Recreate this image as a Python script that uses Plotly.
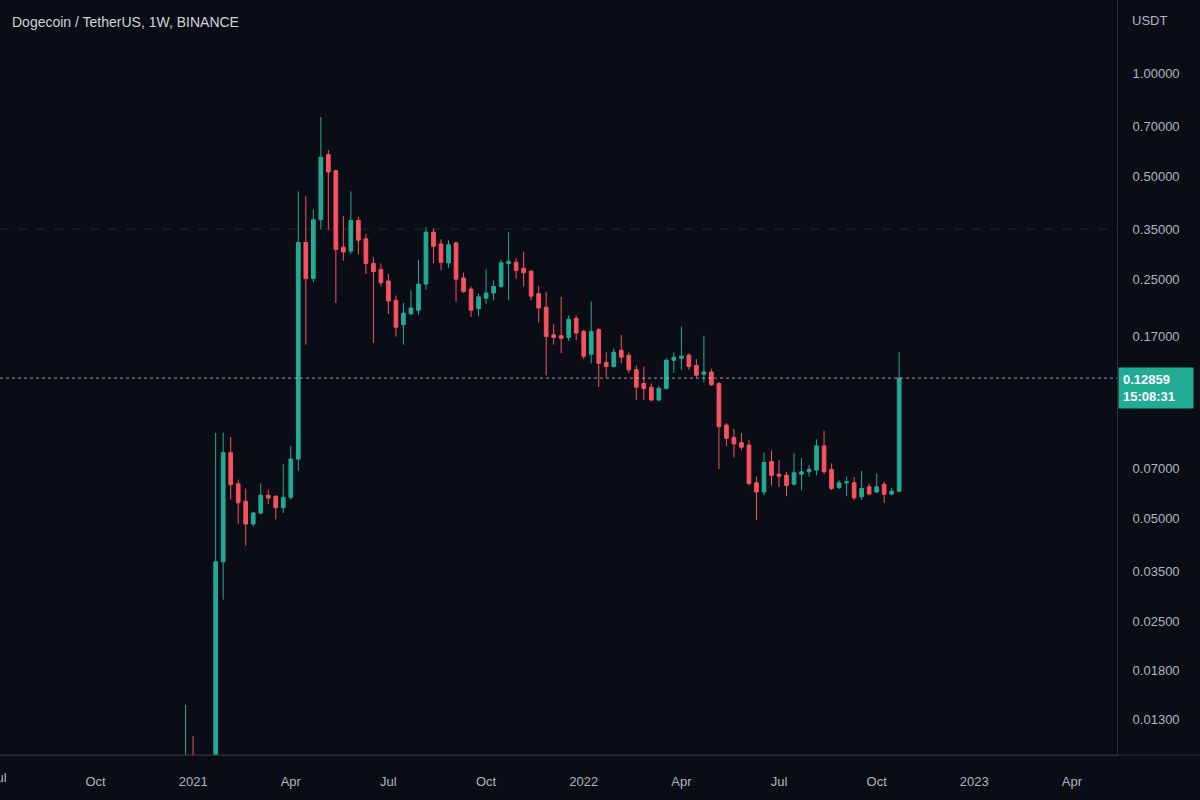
import numpy as np
import pandas as pd
import plotly.graph_objects as go

# ---------------- data (weekly DOGE/USDT, Binance) ----------------
dates = pd.date_range("2020-12-28", periods=96, freq="7D")

opens = [0.0047, 0.0098, 0.0096, 0.0090, 0.0087, 0.0374, 0.0779, 0.0632, 0.0562, 0.0482,
         0.0519, 0.0585, 0.0581, 0.0538, 0.0577, 0.0746, 0.320, 0.251, 0.373, 0.578,
         0.519, 0.310, 0.302, 0.371, 0.328, 0.278, 0.267, 0.247, 0.217, 0.184,
         0.198, 0.203, 0.242, 0.343, 0.317, 0.279, 0.319, 0.252, 0.234, 0.205,
         0.220, 0.228, 0.238, 0.278, 0.280, 0.269, 0.264, 0.227, 0.207, 0.172,
         0.171, 0.169, 0.192, 0.176, 0.151, 0.178, 0.143, 0.139, 0.155, 0.150,
         0.136, 0.124, 0.121, 0.111, 0.120, 0.145, 0.147, 0.150, 0.140, 0.132,
         0.134, 0.124, 0.0938, 0.0863, 0.0833, 0.082, 0.0636, 0.0598, 0.0734, 0.0674,
         0.0669, 0.063, 0.0674, 0.0685, 0.0693, 0.0815, 0.0696, 0.0616, 0.0636, 0.0636,
         0.0579, 0.0619, 0.0598, 0.063, 0.059, 0.0601]
highs = [0.0143, 0.0116, 0.0099, 0.0098, 0.0890, 0.0890, 0.0865, 0.0650, 0.0612, 0.0523,
         0.0634, 0.0608, 0.0585, 0.0721, 0.0815, 0.451, 0.437, 0.400, 0.744, 0.596,
         0.520, 0.382, 0.451, 0.380, 0.339, 0.290, 0.278, 0.259, 0.224, 0.213,
         0.232, 0.285, 0.355, 0.352, 0.327, 0.325, 0.322, 0.261, 0.238, 0.227,
         0.267, 0.248, 0.285, 0.343, 0.288, 0.301, 0.265, 0.239, 0.230, 0.185,
         0.222, 0.196, 0.196, 0.178, 0.215, 0.180, 0.153, 0.157, 0.172, 0.153,
         0.140, 0.139, 0.124, 0.122, 0.147, 0.153, 0.182, 0.152, 0.146, 0.171,
         0.137, 0.125, 0.095, 0.0913, 0.089, 0.0847, 0.0663, 0.0779, 0.079, 0.0741,
         0.0685, 0.0775, 0.0752, 0.0717, 0.0852, 0.0903, 0.0725, 0.0647, 0.0663, 0.0661,
         0.0689, 0.0633, 0.0677, 0.064, 0.0614, 0.153]
lows = [0.0045, 0.0078, 0.0080, 0.0081, 0.0083, 0.0290, 0.0568, 0.0482, 0.0417, 0.0475,
        0.0515, 0.0551, 0.0497, 0.0519, 0.0568, 0.069, 0.161, 0.245, 0.349, 0.349,
        0.213, 0.283, 0.296, 0.296, 0.259, 0.163, 0.238, 0.198, 0.170, 0.161,
        0.197, 0.197, 0.233, 0.279, 0.266, 0.270, 0.215, 0.228, 0.194, 0.195,
        0.212, 0.217, 0.236, 0.217, 0.251, 0.238, 0.217, 0.187, 0.131, 0.161,
        0.152, 0.165, 0.166, 0.146, 0.142, 0.121, 0.129, 0.138, 0.142, 0.133,
        0.111, 0.111, 0.110, 0.110, 0.119, 0.133, 0.136, 0.136, 0.129, 0.125,
        0.122, 0.0698, 0.0815, 0.0754, 0.0792, 0.0625, 0.0495, 0.0585, 0.0625, 0.0619,
        0.0581, 0.0625, 0.0605, 0.0663, 0.0669, 0.0674, 0.0605, 0.061, 0.0581, 0.0567,
        0.0567, 0.0585, 0.0594, 0.0556, 0.0585, 0.0598]
closes = [0.0098, 0.0096, 0.0090, 0.0087, 0.0374, 0.0779, 0.0628, 0.0556, 0.0482, 0.0519,
          0.0585, 0.0574, 0.0538, 0.0577, 0.0746, 0.320, 0.251, 0.373, 0.568, 0.514,
          0.305, 0.300, 0.371, 0.325, 0.278, 0.263, 0.244, 0.216, 0.181, 0.199,
          0.206, 0.242, 0.343, 0.312, 0.280, 0.315, 0.250, 0.230, 0.203, 0.222,
          0.228, 0.238, 0.279, 0.282, 0.265, 0.261, 0.223, 0.206, 0.170, 0.169,
          0.168, 0.191, 0.174, 0.149, 0.176, 0.142, 0.139, 0.153, 0.148, 0.136,
          0.121, 0.120, 0.111, 0.120, 0.145, 0.148, 0.149, 0.139, 0.131, 0.134,
          0.123, 0.0928, 0.0858, 0.0826, 0.0808, 0.0633, 0.0598, 0.0729, 0.0669, 0.0665,
          0.0625, 0.068, 0.0685, 0.0696, 0.0815, 0.0685, 0.0612, 0.0636, 0.064, 0.0575,
          0.0612, 0.059, 0.0619, 0.0589, 0.0601, 0.12859]

price_ticks = [1.0, 0.7, 0.5, 0.35, 0.25, 0.17, 0.07, 0.05, 0.035, 0.025, 0.018, 0.013]
time_tickvals = ["2020-10-05", "2021-01-04", "2021-04-05", "2021-07-05", "2021-10-04",
                 "2022-01-03", "2022-04-04", "2022-07-04", "2022-10-03", "2023-01-02",
                 "2023-04-03"]
time_ticktext = ["Oct", "2021", "Apr", "Jul", "Oct", "2022", "Apr", "Jul", "Oct", "2023", "Apr"]
level_line = 0.35
countdown = "15:08:31"
title_text = "Dogecoin / TetherUS, 1W, BINANCE"

# ---------------- style ----------------
BG = "#0a0c16"
GREEN = "#22ab94"
RED = "#f7525f"
TXT = "#b2b5be"
BORDER = "#2a2e39"
FONT = "Liberation Sans, Arial, sans-serif"
x_range = ["2020-07-08", "2023-05-15"]

last = closes[-1]

fig = go.Figure()

fig.add_trace(go.Scatter(
    x=x_range, y=[level_line, level_line], mode="lines",
    line=dict(color="rgba(120,123,134,0.28)", width=1, dash="dash"),
    hoverinfo="skip", showlegend=False))

fig.add_trace(go.Candlestick(
    x=dates, open=opens, high=highs, low=lows, close=closes,
    increasing=dict(line=dict(color=GREEN, width=1), fillcolor=GREEN),
    decreasing=dict(line=dict(color=RED, width=1), fillcolor=RED),
    whiskerwidth=0, hoverinfo="skip", showlegend=False))

fig.add_trace(go.Scatter(
    x=x_range, y=[last, last], mode="lines",
    line=dict(color="rgba(200,205,215,0.75)", width=1, dash="dot"),
    hoverinfo="skip", showlegend=False, cliponaxis=False))

fig.update_layout(
    width=1200, height=800,
    paper_bgcolor=BG, plot_bgcolor=BG,
    margin=dict(l=0, r=83, t=0, b=45),
    font=dict(family=FONT, color=TXT, size=13),
    showlegend=False,
    hovermode=False,
    boxgap=0.3,
)

fig.update_xaxes(
    type="date", range=x_range,
    tickvals=time_tickvals, ticktext=time_ticktext,
    showgrid=False, zeroline=False,
    showline=True, linecolor=BORDER, linewidth=1,
    ticks="", ticklabelstandoff=14,
    tickfont=dict(size=13, color=TXT, family=FONT),
    rangeslider=dict(visible=False),
)

fig.update_yaxes(
    type="log", side="right",
    range=[-1.9912, 0.2131],
    tickvals=price_ticks, ticktext=[f"{v:.5f}" for v in price_ticks],
    showgrid=False, zeroline=False,
    showline=True, linecolor=BORDER, linewidth=1,
    ticks="", ticklabelstandoff=12,
    tickfont=dict(size=13, color=TXT, family=FONT),
)

# bottom border extending under price scale
fig.add_shape(type="line", xref="paper", yref="paper", x0=0, x1=1200 / 1117, y0=0, y1=0,
              line=dict(color=BORDER, width=1))

# title
fig.add_annotation(xref="paper", yref="paper", x=0, y=1, xanchor="left", yanchor="middle",
                   xshift=10, yshift=-22, text=title_text, showarrow=False,
                   font=dict(size=14, color="#d1d4dc", family=FONT))
# currency label
fig.add_annotation(xref="paper", yref="paper", x=1, y=1, xanchor="left", yanchor="middle",
                   xshift=13, yshift=-20, text="USDT", showarrow=False,
                   font=dict(size=13, color=TXT, family=FONT))
# partially visible "Jul" at left edge
fig.add_annotation(xref="paper", yref="paper", x=-2 / 1117, y=0, xanchor="center",
                   yanchor="middle", yshift=-22, text="Jul", showarrow=False,
                   font=dict(size=13, color=TXT, family=FONT))
# last price label
fig.add_annotation(xref="paper", yref="y", x=1, y=np.log10(last), xanchor="left",
                   yanchor="top", xshift=1, yshift=11,
                   text=f"<b>{last:.5f}</b><br><b>{countdown}</b>",
                   showarrow=False, bgcolor=GREEN, borderpad=4, width=66, align="left",
                   font=dict(size=13, color="#ffffff", family=FONT))

fig.write_html("out.html")
